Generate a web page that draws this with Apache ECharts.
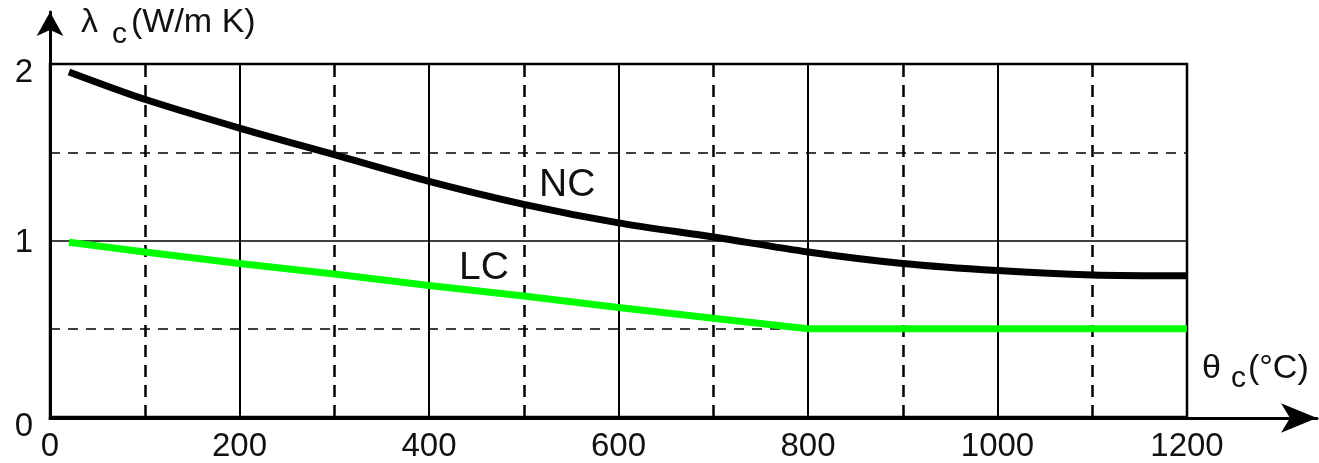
<!DOCTYPE html>
<html>
<head>
<meta charset="utf-8">
<script src="https://cdn.jsdelivr.net/npm/echarts@6/dist/echarts.min.js"></script>
<style>
  html, body { margin: 0; padding: 0; background: #fff; }
  #chart { width: 1319px; height: 463px; }
</style>
</head>
<body>
<div id="chart"></div>
<script>
// temperatures (°C) and conductivity values
var ncTemp = [20, 100, 200, 300, 400, 500, 600, 700, 800, 900, 1000, 1100, 1200];
var ncValues = [1.955, 1.80, 1.637, 1.486, 1.335, 1.205, 1.10, 1.02, 0.935, 0.87, 0.83, 0.805, 0.80];
var lcTemp = [20, 100, 200, 300, 400, 500, 600, 700, 800, 900, 1000, 1100, 1200];
var lcValues = [0.99, 0.935, 0.87, 0.81, 0.745, 0.685, 0.62, 0.56, 0.50, 0.50, 0.50, 0.50, 0.50];
var xTicks = [0, 200, 400, 600, 800, 1000, 1200];
var yTicks = [0, 1, 2];
// dashed grid lines in between the labelled ones
var xDashed = [100, 300, 500, 700, 900, 1100];
var yDashed = [0.5, 1.5];

var font = 'Liberation Sans, Arial, sans-serif';

function pairs(xs, ys){
  var out = [];
  for(var i=0;i<xs.length;i++){
    out.push([xs[i], ys[i]]);
  }
  return out;
}

var dashedLines = [];
xDashed.forEach(function(v){
  dashedLines.push({ xAxis: v, lineStyle: { color: '#000', width: 2.5, type: [12, 8] } });
});
yDashed.forEach(function(v){
  dashedLines.push({ yAxis: v, lineStyle: { color: '#000', width: 1.5, type: [10, 8] } });
});

var myChart = echarts.init(document.getElementById('chart'));

var option = {
  backgroundColor: '#fff',
  animation: false,
  grid: [
    {
      // plot area
      left: 50, right: 132, top: 64, bottom: 45,
      show: true, borderColor: '#000', borderWidth: 2.5
    },
    {
      // axes with arrows
      left: 50, right: 2, top: 12, bottom: 45
    }
  ],
  xAxis: [
    {
      gridIndex: 0, type: 'value', min: 0, max: 1200, interval: 200,
      axisLine: { show: false }, axisTick: { show: false },
      axisLabel: {
        fontFamily: font, fontSize: 33, color: '#111', margin: 13,
        formatter: function(v){ return xTicks.indexOf(v) !== -1 ? String(v) : ''; }
      },
      splitLine: { show: true, lineStyle: { color: '#000', width: 2, type: 'solid' } }
    },
    {
      gridIndex: 1, type: 'value', min: 0, max: 1,
      axisLine: {
        show: true, symbol: ['none', 'arrow'], symbolSize: [22, 36],
        lineStyle: { color: '#000', width: 3 }
      },
      axisTick: { show: false }, axisLabel: { show: false }, splitLine: { show: false }
    }
  ],
  yAxis: [
    {
      gridIndex: 0, type: 'value', min: 0, max: 2, interval: 1,
      axisLine: { show: false }, axisTick: { show: false },
      axisLabel: {
        fontFamily: font, fontSize: 33, color: '#111', margin: 17,
        formatter: function(v){ return yTicks.indexOf(v) !== -1 ? '{t' + v + '|' + v + '}' : ''; },
        rich: {
          t0: { fontFamily: font, fontSize: 33, color: '#111', padding: [20, 0, 0, 0] },
          t1: { fontFamily: font, fontSize: 33, color: '#111', padding: [4, 0, 0, 0] },
          t2: { fontFamily: font, fontSize: 33, color: '#111', padding: [18, 0, 0, 0] }
        }
      },
      splitLine: { show: true, lineStyle: { color: '#000', width: 1.5, type: 'solid' } }
    },
    {
      gridIndex: 1, type: 'value', min: 0, max: 1,
      axisLine: {
        show: true, symbol: ['none', 'arrow'], symbolSize: [20, 24],
        lineStyle: { color: '#000', width: 3 }
      },
      axisTick: { show: false }, axisLabel: { show: false }, splitLine: { show: false }
    }
  ],
  graphic: [
    {
      type: 'text', left: 81, top: 6,
      style: {
        text: '{a|λ}{s|c}{a|(W/m K)}',
        rich: {
          a: { fontFamily: font, fontSize: 34, fill: '#111' },
          s: { fontFamily: font, fontSize: 30, fill: '#111', padding: [24, 4, 0, 14] }
        }
      }
    },
    {
      type: 'text', left: 1202, top: 352,
      style: {
        text: '{a|θ}{s|c}{a|(°C)}',
        rich: {
          a: { fontFamily: font, fontSize: 34, fill: '#111' },
          s: { fontFamily: font, fontSize: 30, fill: '#111', padding: [20, 2, 0, 10] }
        }
      }
    },
    {
      type: 'text', left: 539, top: 166,
      style: { text: 'NC', fontFamily: font, fontSize: 39, fill: '#111' }
    },
    {
      type: 'text', left: 459, top: 249,
      style: { text: 'LC', fontFamily: font, fontSize: 39, fill: '#111' }
    }
  ],
  series: [
    {
      name: 'grid', type: 'line', xAxisIndex: 0, yAxisIndex: 0,
      data: [], silent: true, z: 1,
      markLine: {
        silent: true, symbol: ['none', 'none'], label: { show: false },
        animation: false, data: dashedLines
      }
    },
    {
      name: 'NC', type: 'line', xAxisIndex: 0, yAxisIndex: 0,
      data: pairs(ncTemp, ncValues),
      smooth: 0.3, showSymbol: false, z: 5,
      lineStyle: { color: '#000', width: 7, cap: 'butt' }
    },
    {
      name: 'LC', type: 'line', xAxisIndex: 0, yAxisIndex: 0,
      data: pairs(lcTemp, lcValues),
      smooth: false, showSymbol: false, z: 5,
      lineStyle: { color: '#00ff00', width: 7, cap: 'butt' }
    }
  ]
};

myChart.setOption(option);
</script>
</body>
</html>
